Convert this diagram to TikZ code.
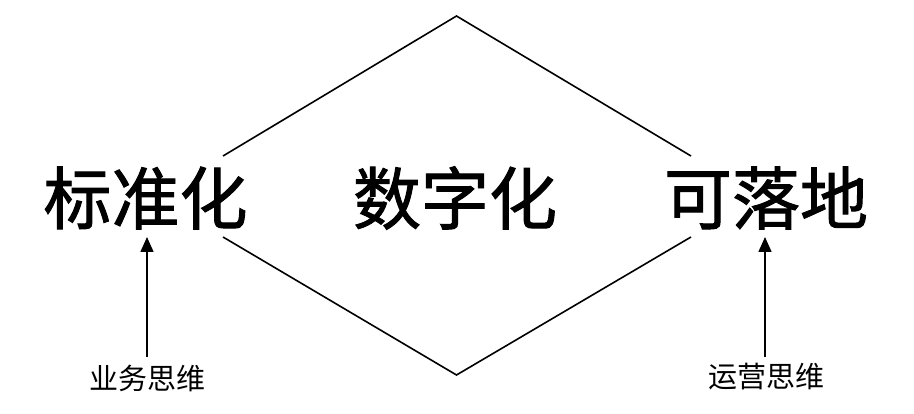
\documentclass[tikz,border=0pt]{standalone}
\usepackage{fontspec}
\newfontfamily\cjk{Noto Sans CJK SC}
\newfontfamily\cjkbig[FakeBold=1.4]{Noto Sans CJK SC}
\usetikzlibrary{arrows.meta}
\tikzset{
  big/.style={font=\cjkbig\fontsize{68}{68}\selectfont, inner sep=0pt, anchor=center},
  small/.style={font=\cjk\fontsize{29}{29}\selectfont, inner sep=0pt, anchor=center},
  edge/.style={line width=1.6pt, black},
  arr/.style={line width=1.6pt, black, -{Triangle[length=15pt, width=13pt]}}
}
\begin{document}
\begin{tikzpicture}[x=1pt, y=-1pt]
\useasboundingbox (0,0) rectangle (914,414);
\fill[white] (0,0) rectangle (914,414);
% text nodes
\node[big] (std) at (145.5,198) {标准化};
\node[big] (dig) at (455,198) {数字化};
\node[big] (land) at (766,198) {可落地};
\node[small] (biz) at (147,378) {业务思维};
\node[small] (ops) at (766,377) {运营思维};
% diamond vertices
\coordinate (top) at (456.5,16);
\coordinate (bot) at (456.5,375);
\coordinate (lt) at (223,156);
\coordinate (lb) at (223,237);
\coordinate (rt) at (691,156);
\coordinate (rb) at (691,237);
\coordinate (stdin) at (147,237);
\coordinate (landin) at (765,237);
\coordinate (bizout) at (147,357);
\coordinate (opsout) at (765,357);
\draw[edge] (lt) -- (top) -- (rt);
\draw[edge] (lb) -- (bot) -- (rb);
% arrows
\draw[arr] (bizout) -- (stdin);
\draw[arr] (opsout) -- (landin);
\end{tikzpicture}
\end{document}
